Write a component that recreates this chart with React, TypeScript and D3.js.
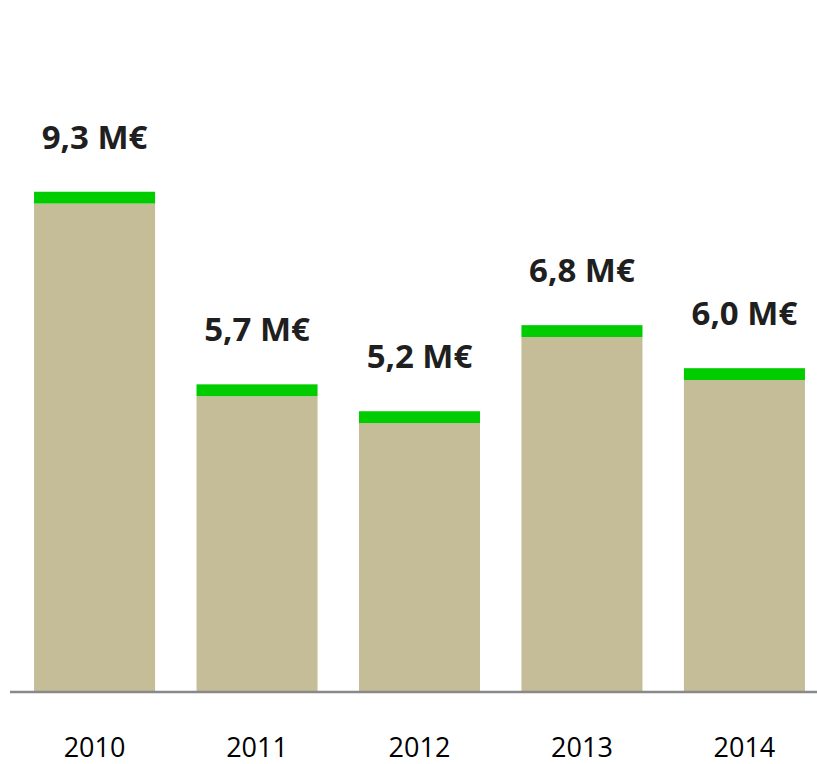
import React from 'react';
import * as d3 from 'd3';

// data
const years = ['2010', '2011', '2012', '2013', '2014'];
const totals = [9.3, 5.7, 5.2, 6.8, 6.0];
const baseValues = [9.06, 5.48, 4.98, 6.58, 5.78];
const capValues = [0.22, 0.22, 0.22, 0.22, 0.22];
const labels = ['9,3 M€', '5,7 M€', '5,2 M€', '6,8 M€', '6,0 M€'];

const W = 817;
const H = 764;

const App = () => {
  const x = d3.scaleBand<string>()
    .domain(years)
    .range([13.25, 825.75])
    .paddingInner(0.255)
    .paddingOuter(0.128);

  const y = d3.scaleLinear().domain([0, 12]).range([691, 45.4]);

  const rows = years.map((yr, i) => ({year: yr, base: baseValues[i], cap: capValues[i]}));
  const series = d3.stack<any>().keys(['base', 'cap'])(rows);
  const colors = {base: '#C4BD97', cap: '#00CC00'};

  return (
    <svg width={W} height={H} style={{position: 'absolute', left: 0, top: 0}}>
      {series.map(s => (
        <g key={s.key} fill={colors[s.key]}>
          {s.map((d, i) => (
            <rect key={i}
              x={x(years[i])}
              width={x.bandwidth()}
              y={y(d[1])}
              height={y(d[0]) - y(d[1])} />
          ))}
        </g>
      ))}

      <line x1={10} x2={W} y1={y(0) + 1} y2={y(0) + 1} stroke="#898989" strokeWidth={2.5} />

      {years.map((yr, i) => (
        <text key={'v' + yr}
          x={x(yr) + x.bandwidth() / 2}
          y={y(baseValues[i] + capValues[i]) - 43}
          textAnchor="middle"
          fontFamily="'Open Sans', sans-serif"
          fontWeight="bold"
          fontSize={33}
          fill="#1F1F1F">{labels[i]}</text>
      ))}

      {years.map(yr => (
        <text key={'x' + yr}
          x={x(yr) + x.bandwidth() / 2}
          y={757}
          textAnchor="middle"
          fontFamily="'Open Sans', sans-serif"
          fontSize={27}
          fill="#000">{yr}</text>
      ))}
    </svg>
  );
};

export default App;
